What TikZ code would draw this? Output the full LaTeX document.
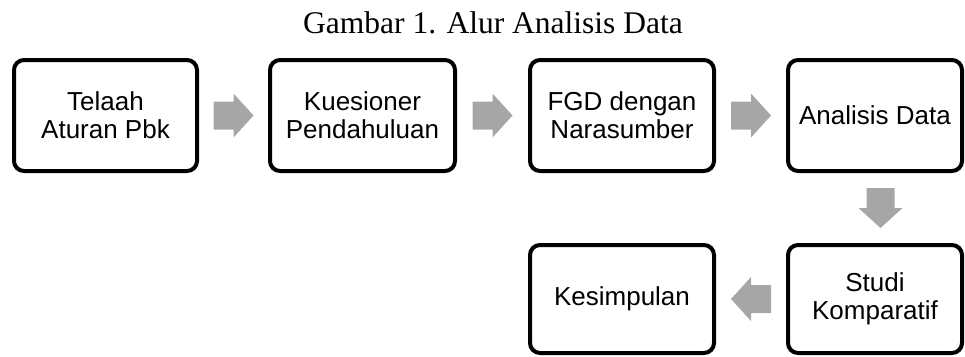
\documentclass[tikz,border=0pt]{standalone}
\usepackage{fontspec}
\setmainfont{Liberation Serif}
\newfontfamily\arial{Liberation Sans}
\usetikzlibrary{calc}

\tikzset{
  stepbox/.style={draw, line width=4pt, rounded corners=10pt, minimum height=111pt,
    align=center, font=\arial\fontsize{26pt}{28pt}\selectfont, inner sep=0pt},
  blockarrow/.pic={\fill[gray!70] (-20,-14) -- (0,-14) -- (0,-22) -- (20,0) -- (0,22) -- (0,14) -- (-20,14) -- cycle;}
}

\begin{document}
\begin{tikzpicture}[x=1pt, y=-1pt]
\useasboundingbox (0,0) rectangle (965,356);

\node[font=\fontsize{31.5pt}{36pt}\selectfont, anchor=base] (title) at (493,33) {Gambar 1. Alur Analisis Data};

\node[stepbox, minimum width=183pt] (telaah) at (105.5,115.5) {Telaah\\Aturan Pbk};
\node[stepbox, minimum width=185pt] (kuesioner) at (362.5,115.5) {Kuesioner\\Pendahuluan};
\node[stepbox, minimum width=184pt] (fgd) at (622,115.5) {FGD dengan\\Narasumber};
\node[stepbox, minimum width=174pt] (analisis) at (875,115.5) {Analisis Data};
\node[stepbox, minimum width=174pt, minimum height=108pt] (studi) at (875,299) {Studi\\Komparatif};
\node[stepbox, minimum width=184pt, minimum height=108pt] (kesimpulan) at (622,299) {Kesimpulan};

\pic at ($(telaah.east)!0.5!(kuesioner.west)$) {blockarrow};
\pic at ($(kuesioner.east)!0.5!(fgd.west)$) {blockarrow};
\pic at ($(fgd.east)!0.5!(analisis.west)$) {blockarrow};
\pic[rotate=-90] at ($(analisis.south)!0.5!(studi.north)+(5.5,0)$) {blockarrow};
\pic[rotate=180] at ($(studi.west)!0.5!(kesimpulan.east)$) {blockarrow};

\end{tikzpicture}
\end{document}
